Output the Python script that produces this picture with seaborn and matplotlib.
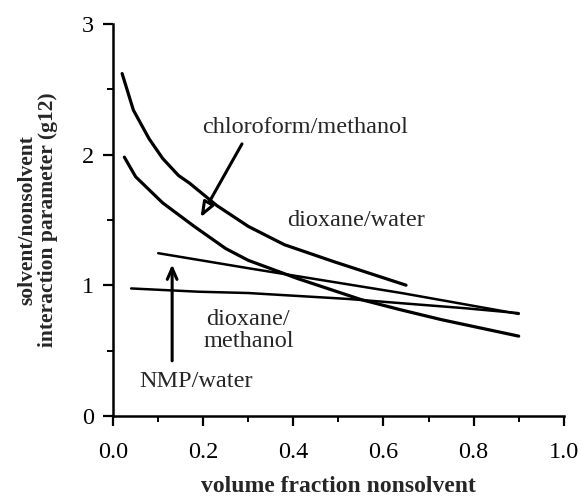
import matplotlib
matplotlib.use("Agg")
import matplotlib.pyplot as plt
import seaborn as sns
import pandas as pd
from matplotlib.ticker import MultipleLocator, FormatStrFormatter

# Interaction parameter curves vs. volume fraction of nonsolvent
dw_x = [0.02, 0.045, 0.08, 0.11, 0.145, 0.17, 0.23, 0.30, 0.38, 0.49, 0.65]
dw_y = [2.62, 2.34, 2.12, 1.97, 1.84, 1.78, 1.61, 1.45, 1.31, 1.18, 1.00]

cm_x = [0.025, 0.05, 0.11, 0.18, 0.25, 0.30, 0.41, 0.55, 0.64, 0.73, 0.90]
cm_y = [1.98, 1.83, 1.63, 1.45, 1.28, 1.19, 1.05, 0.89, 0.81, 0.735, 0.61]

nmp_x = [0.10, 0.30, 0.64, 0.90]
nmp_y = [1.245, 1.13, 0.94, 0.78]

dm_x = [0.04, 0.19, 0.30, 0.52, 0.64, 0.78, 0.90]
dm_y = [0.975, 0.95, 0.94, 0.895, 0.862, 0.824, 0.786]

x_ticks = [0.0, 0.2, 0.4, 0.6, 0.8, 1.0]
y_ticks = [0, 1, 2, 3]

sns.set_style("ticks")
plt.rcParams["font.family"] = ["Liberation Serif", "DejaVu Serif"]

fig = plt.figure(figsize=(5.83, 4.98), dpi=100)
ax = fig.add_axes([0.194, 0.165, 0.773, 0.787])

curves = [
    (dw_x, dw_y, 2.3),
    (cm_x, cm_y, 2.3),
    (nmp_x, nmp_y, 1.8),
    (dm_x, dm_y, 1.8),
]
for xs, ys, lw in curves:
    df = pd.DataFrame({"x": xs, "y": ys})
    sns.lineplot(data=df, x="x", y="y", ax=ax, color="black", lw=lw,
                 sort=False, estimator=None)

ax.set_xlim(0, 1.0)
ax.set_ylim(0, 3)
ax.set_xticks(x_ticks)
ax.set_yticks(y_ticks)
ax.xaxis.set_major_formatter(FormatStrFormatter("%.1f"))
ax.xaxis.set_minor_locator(MultipleLocator(0.1))
ax.yaxis.set_minor_locator(MultipleLocator(0.5))
ax.tick_params(axis="both", which="major", direction="out", length=7,
               width=1.6, labelsize=17.5, color="black", labelcolor="black")
ax.tick_params(axis="both", which="minor", direction="out", length=4,
               width=1.4, color="black")
ax.tick_params(axis="x", which="major", pad=12)
ax.tick_params(axis="y", which="major", pad=7)

sns.despine(ax=ax)
for s in ("left", "bottom"):
    ax.spines[s].set_linewidth(1.8)
    ax.spines[s].set_color("black")

ax.set_xlabel("volume fraction nonsolvent", fontsize=17, fontweight="bold",
              labelpad=9)
ax.set_ylabel("solvent/nonsolvent\ninteraction parameter (g12)", fontsize=15.5,
              fontweight="bold", labelpad=17, linespacing=1.0)

ax.text(0.426, 2.21, "chloroform/methanol", fontsize=17.5, ha="center",
        va="center")
ax.annotate("", xy=(0.191, 1.50), xytext=(0.289, 2.10),
            arrowprops=dict(arrowstyle="-|>,head_length=0.9,head_width=0.35",
                            lw=2.2, color="black", fc="white"))
ax.text(0.539, 1.494, "dioxane/water", fontsize=17.5, ha="center",
        va="center")
ax.text(0.30, 0.655, "dioxane/\nmethanol", fontsize=17.5, ha="center",
        va="center", linespacing=1.05)
ax.text(0.183, 0.26, "NMP/water", fontsize=17.5, ha="center", va="center")
ax.annotate("", xy=(0.131, 1.18), xytext=(0.131, 0.40),
            arrowprops=dict(arrowstyle="->,head_length=0.8,head_width=0.35",
                            lw=2.2, color="black"))

fig.savefig("out.png", dpi=100, facecolor="white")
